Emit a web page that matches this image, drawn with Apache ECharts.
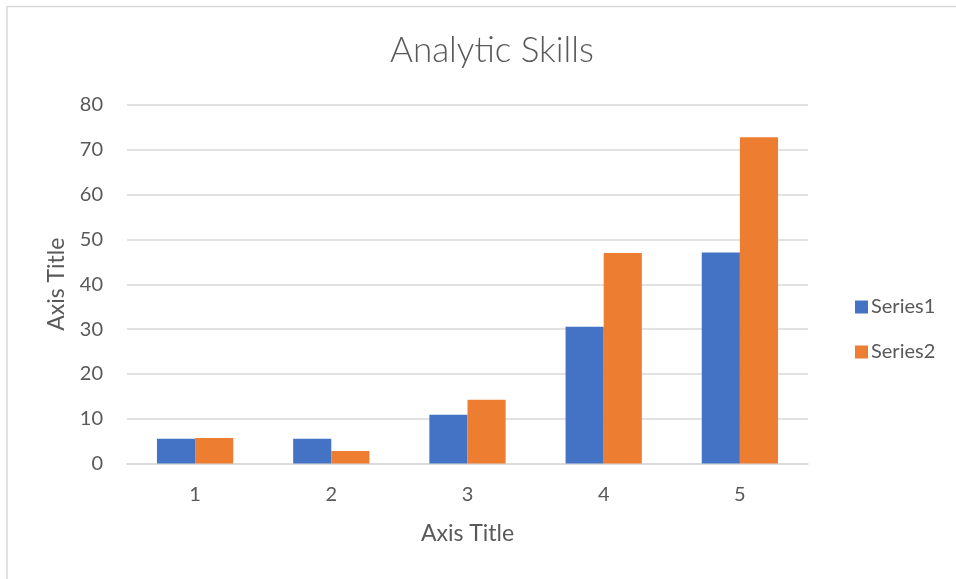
<!DOCTYPE html>
<html>
<head>
<meta charset="utf-8">
<script src="https://cdn.jsdelivr.net/npm/echarts@6/dist/echarts.min.js"></script>
<style>
html,body{margin:0;padding:0;background:#fff;}
#chart{width:956px;height:579px;}
</style>
</head>
<body>
<div id="chart"></div>
<script>
var categories = ['1', '2', '3', '4', '5'];
var series1 = [5.5, 5.5, 10.9, 30.5, 47.1];
var series2 = [5.7, 2.8, 14.2, 47.0, 72.8];
var seriesNames = ['Series1', 'Series2'];
var yTicks = {min: 0, max: 80, interval: 10};

var FONT = 'Lato, "Open Sans", "Liberation Sans", sans-serif';
var TXT = '#595959';

var chart = echarts.init(document.getElementById('chart'), null, {renderer: 'canvas'});
chart.setOption({
  backgroundColor: '#ffffff',
  animation: false,
  title: {
    text: 'Analytic Skills',
    left: 487,
    textAlign: 'center',
    top: 28,
    textStyle: {fontFamily: FONT, fontSize: 35, fontWeight: 300, color: TXT}
  },
  graphic: [{
    type: 'rect',
    shape: {x: 7, y: 6.5, width: 1000, height: 700},
    style: {fill: 'none', stroke: '#d9d9d9', lineWidth: 1.5},
    silent: true
  }],
  legend: {
    orient: 'vertical',
    left: 850,
    top: 292,
    itemWidth: 13,
    itemHeight: 13,
    itemGap: 25,
    icon: 'rect',
    data: seriesNames,
    textStyle: {fontFamily: FONT, fontSize: 20, color: TXT, lineHeight: 20, padding: [0, 0, 0, -2]}
  },
  grid: {left: 127, right: 148, top: 105, bottom: 115.5, containLabel: false},
  xAxis: {
    type: 'category',
    data: categories,
    name: 'Axis Title',
    nameLocation: 'middle',
    nameGap: 59,
    nameTextStyle: {fontFamily: FONT, fontSize: 23, color: TXT},
    axisLine: {lineStyle: {color: '#d9d9d9', width: 1.5}},
    axisTick: {show: false},
    axisLabel: {fontFamily: FONT, fontSize: 20, color: TXT, margin: 21}
  },
  yAxis: {
    type: 'value',
    min: yTicks.min,
    max: yTicks.max,
    interval: yTicks.interval,
    name: 'Axis Title',
    nameLocation: 'middle',
    nameGap: 59,
    nameTextStyle: {fontFamily: FONT, fontSize: 23, color: TXT},
    axisLine: {show: false},
    axisTick: {show: false},
    splitLine: {lineStyle: {color: '#d9d9d9', width: 1.5}},
    axisLabel: {fontFamily: FONT, fontSize: 20, color: TXT, margin: 24}
  },
  series: [
    {name: seriesNames[0], type: 'bar', data: series1, barGap: '0%', barCategoryGap: '44%',
     itemStyle: {color: '#4472C4'}},
    {name: seriesNames[1], type: 'bar', data: series2, barGap: '0%', barCategoryGap: '44%',
     itemStyle: {color: '#ED7D31'}}
  ]
});
</script>
</body>
</html>
